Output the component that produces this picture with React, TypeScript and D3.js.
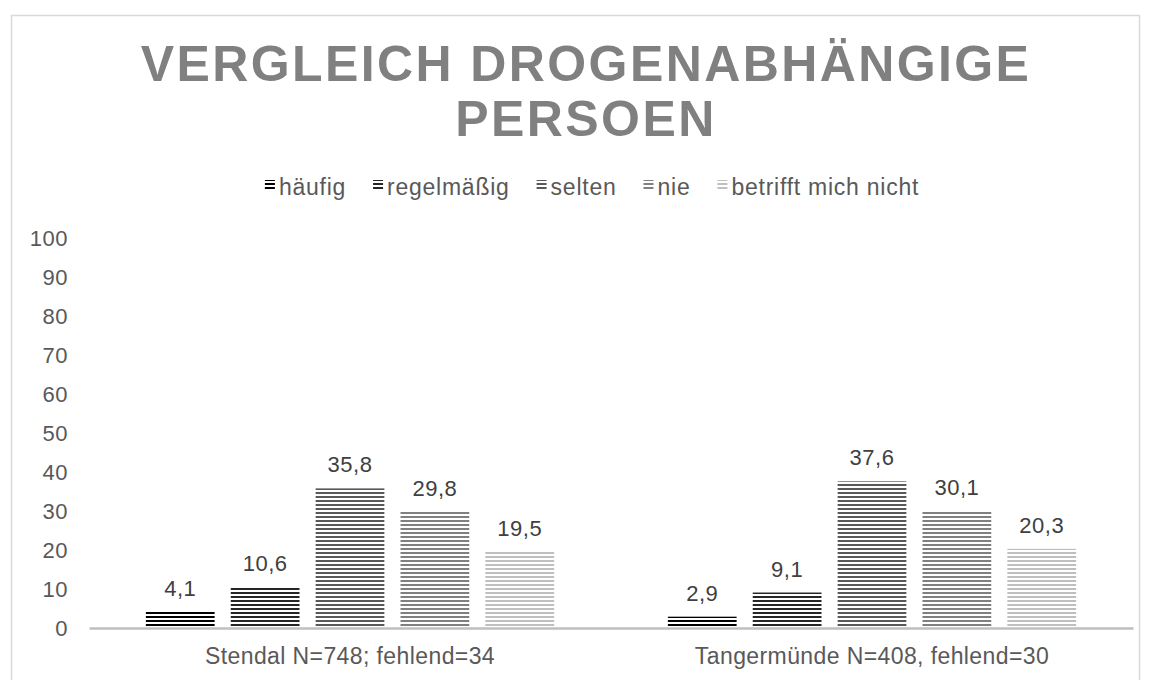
import React, { useEffect, useRef } from 'react';
import * as d3 from 'd3';

// chart data
const categories = ['Stendal N=748; fehlend=34', 'Tangermünde N=408, fehlend=30'];
const seriesNames = ['häufig', 'regelmäßig', 'selten', 'nie', 'betrifft mich nicht'];
const stendal = [4.1, 10.6, 35.8, 29.8, 19.5];
const tangermuende = [2.9, 9.1, 37.6, 30.1, 20.3];
const yTicks = [0, 10, 20, 30, 40, 50, 60, 70, 80, 90, 100];
const titleLines = ['VERGLEICH DROGENABHÄNGIGE', 'PERSOEN'];

const seriesColors = ['#000000', '#262626', '#595959', '#808080', '#bfbfbf'];
const font = 'Arial, "Liberation Sans", sans-serif';

function App() {
  const svgRef = useRef<SVGSVGElement>(null);

  useEffect(() => {
    const width = 1150, height = 680;
    const svg = d3.select(svgRef.current);
    svg.selectAll('*').remove();
    svg.attr('width', width).attr('height', height);

    svg.append('rect').attr('width', width).attr('height', height).attr('fill', '#fff');

    // hatch patterns (horizontal lines)
    const defs = svg.append('defs');
    seriesColors.forEach((c, i) => {
      const p = defs.append('pattern')
        .attr('id', 'hatch' + i)
        .attr('patternUnits', 'userSpaceOnUse')
        .attr('width', 8).attr('height', 4);
      p.append('rect').attr('width', 8).attr('height', 4).attr('fill', '#fff');
      p.append('rect').attr('y', 0).attr('width', 8).attr('height', 2).attr('fill', c);
    });

    // outer border
    svg.append('rect')
      .attr('x', 11.5).attr('y', 15.5)
      .attr('width', 1128).attr('height', 700)
      .attr('fill', 'none').attr('stroke', '#d9d9d9').attr('stroke-width', 1.5);

    // title
    const title = svg.append('text')
      .attr('text-anchor', 'middle')
      .attr('font-family', font).attr('font-weight', 'bold')
      .attr('font-size', 50).attr('letter-spacing', 2.4)
      .attr('fill', '#808080');
    titleLines.forEach((t, i) => {
      title.append('tspan').attr('x', 586).attr('y', 81 + i * 55).text(t);
    });

    const rows = categories.map((c, i) => ({
      cat: c,
      values: (i === 0 ? stendal : tangermuende).map((v, j) => ({ key: seriesNames[j], value: v, idx: j }))
    }));

    const x0 = d3.scaleBand<string>().domain(categories).range([89, 1133]);
    const x1 = d3.scaleBand<string>().domain(seriesNames)
      .range([0, x0.bandwidth()]).paddingInner(0.19).paddingOuter(0.67);
    const y = d3.scaleLinear().domain([0, 100]).range([628, 238]);

    // y axis labels
    const yAxis = svg.append('g')
      .attr('transform', 'translate(68,0)')
      .call(d3.axisLeft(y).tickValues(yTicks).tickSize(0).tickPadding(0));
    yAxis.select('.domain').remove();
    yAxis.selectAll('text')
      .attr('font-family', font).attr('font-size', 22).attr('letter-spacing', 0.5)
      .attr('fill', '#595959');

    // bars
    const g = svg.append('g');
    const groups = g.selectAll('g.grp').data(rows).enter().append('g')
      .attr('transform', d => `translate(${x0(d.cat)},0)`);
    groups.selectAll('rect').data(d => d.values).enter().append('rect')
      .attr('x', d => x1(d.key)!)
      .attr('width', x1.bandwidth())
      .attr('y', d => y(d.value))
      .attr('height', d => y(0) - y(d.value))
      .attr('fill', d => `url(#hatch${d.idx})`);
    groups.selectAll('text').data(d => d.values).enter().append('text')
      .attr('x', d => x1(d.key)! + x1.bandwidth() / 2)
      .attr('y', d => y(d.value) - 16)
      .attr('text-anchor', 'middle')
      .attr('font-family', font).attr('font-size', 22).attr('letter-spacing', 0.5)
      .attr('fill', '#404040')
      .text(d => String(d.value).replace('.', ','));

    // x axis
    const xAxis = svg.append('g')
      .attr('transform', `translate(0,${y(0)})`)
      .call(d3.axisBottom(x0).tickSize(0).tickPadding(20));
    xAxis.select('.domain').attr('stroke', '#bfbfbf').attr('stroke-width', 2.5);
    xAxis.selectAll('text')
      .attr('font-family', font).attr('font-size', 23).attr('letter-spacing', 0.4)
      .attr('fill', '#595959');

    // legend
    const legend = svg.append('g');
    let lx = 0;
    const gap = 27;
    seriesNames.forEach((name, i) => {
      const item = legend.append('g').attr('transform', `translate(${lx},0)`);
      item.append('rect').attr('x', 0).attr('y', -15).attr('width', 10).attr('height', 10)
        .attr('fill', `url(#hatch${i})`);
      const t = item.append('text').attr('x', 14).attr('y', 0)
        .attr('font-family', font).attr('font-size', 23).attr('letter-spacing', 0.75)
        .attr('fill', '#595959')
        .text(name);
      const w = (t.node() as SVGTextElement).getComputedTextLength();
      lx += 14 + w + gap;
    });
    const totalW = lx - gap;
    legend.attr('transform', `translate(${592 - totalW / 2},195)`);
  }, []);

  return (
    <div style={{ position: 'absolute', left: 0, top: 0 }}>
      <svg ref={svgRef}></svg>
    </div>
  );
}

export default App;
